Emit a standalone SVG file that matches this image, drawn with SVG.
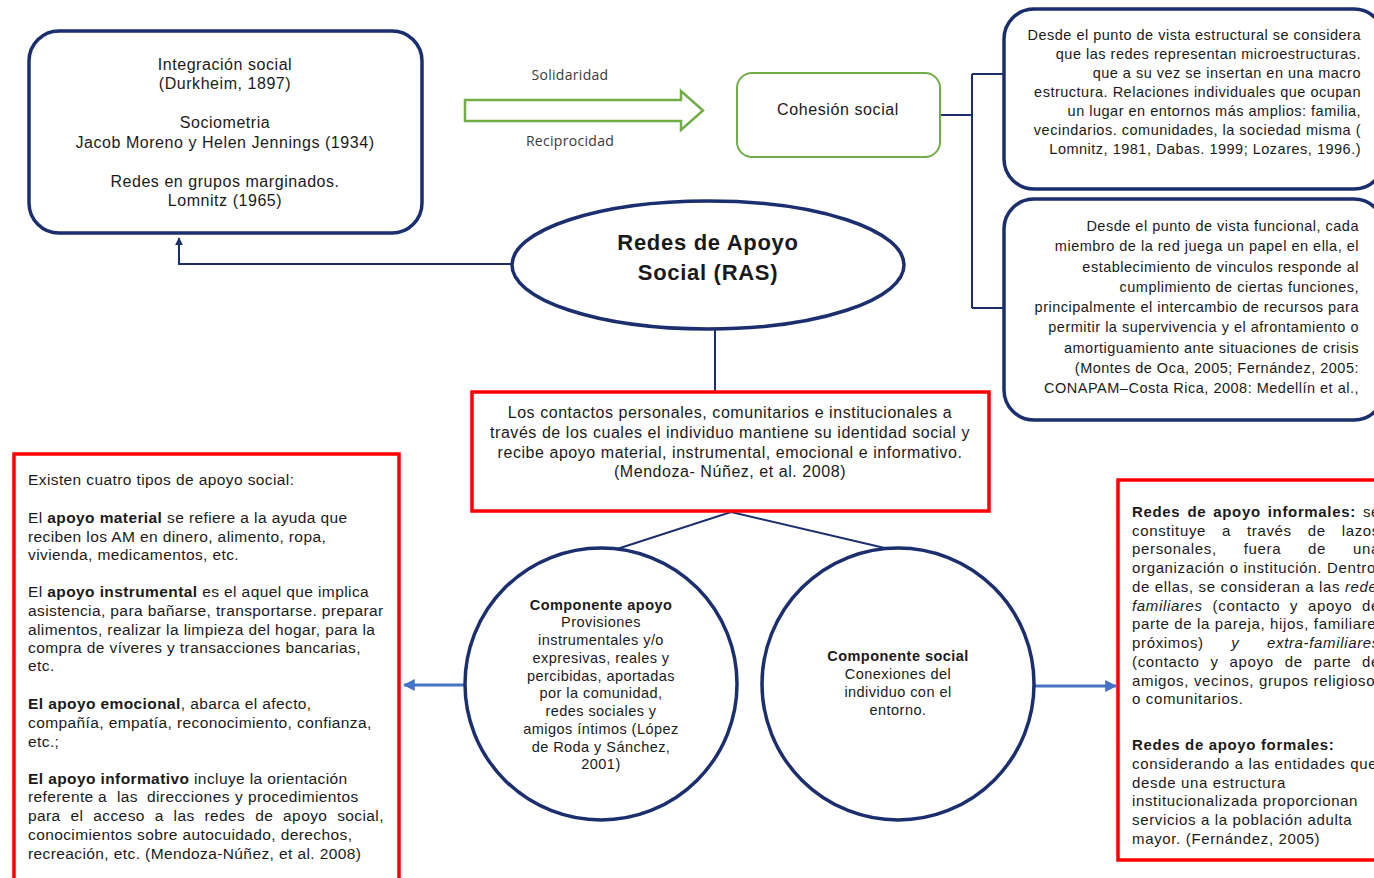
<svg xmlns="http://www.w3.org/2000/svg" width="1374" height="878" viewBox="0 0 1374 878">
<defs>
<style>
.t{font-family:"Liberation Sans",Arial,sans-serif;fill:#1a1a1a}
.navy{fill:none;stroke:#1b2f6e;stroke-width:3.5}
.red{fill:#fff;stroke:#ff0000;stroke-width:3.5}
.con{fill:none;stroke:#1b2f6e;stroke-width:2}
.blue{fill:none;stroke:#4472c4;stroke-width:3}
.b{font-weight:bold}
.i{font-style:italic}
.tl{font-size:16px;letter-spacing:0.55px;text-anchor:middle}
.rt{font-size:14.5px;letter-spacing:0.5px;text-anchor:end}
.cb{font-size:16px;letter-spacing:0.55px;text-anchor:middle}
.lb{font-size:15.5px;letter-spacing:0.4px}
.rb{font-size:15px;letter-spacing:0.65px}
.ci{font-size:14.5px;letter-spacing:0.45px;text-anchor:middle}
.lab{font-family:"Open Sans","Noto Sans",sans-serif;font-size:14px;letter-spacing:0.3px;fill:#3a3a3a;text-anchor:middle}
</style>
<marker id="navyArrow" viewBox="0 0 10 10" refX="9" refY="5" markerWidth="4" markerHeight="4" orient="auto" markerUnits="strokeWidth">
<path d="M0,0 L10,5 L0,10 z" fill="#1b2f6e"/>
</marker>
<marker id="blueArrow" viewBox="0 0 10 10" refX="9" refY="5" markerWidth="4" markerHeight="4" orient="auto" markerUnits="strokeWidth">
<path d="M0,0 L10,5 L0,10 z" fill="#4472c4"/>
</marker>
</defs>
<rect width="1374" height="878" fill="#fff"/>

<g id="connectors">
<path class="con" d="M512,264 H179 V238" marker-end="url(#navyArrow)"/>
<path class="con" d="M940,115 H972 M972,74 V308 M972,74 H1004 M972,308 H1004"/>
<path class="con" d="M715,329 V391"/>
<path class="con" d="M617,549 L731,512 L889,549"/>
<path class="blue" d="M465,685 H404" marker-end="url(#blueArrow)"/>
<path class="blue" d="M1034,686 H1116" marker-end="url(#blueArrow)"/>
<path d="M465,100 H681 V91 L703,110.5 L681,130 V121 H465 Z" fill="#fff" stroke="#70ad47" stroke-width="2.5"/>
<text class="lab" x="570" y="80">Solidaridad</text>
<text class="lab" x="570" y="146">Reciprocidad</text>
</g>

<g id="antecedentes">
<rect class="navy" x="29" y="31" width="393" height="202" rx="30"/>
<text class="t tl" x="225" y="70">Integración social</text>
<text class="t tl" x="225" y="89">(Durkheim, 1897)</text>
<text class="t tl" x="225" y="128">Sociometria</text>
<text class="t tl" x="225" y="148">Jacob Moreno y Helen Jennings (1934)</text>
<text class="t tl" x="225" y="187">Redes en grupos marginados.</text>
<text class="t tl" x="225" y="206">Lomnitz (1965)</text>
</g>

<g id="cohesion">
<rect x="737" y="73" width="203" height="84" rx="15" fill="#fff" stroke="#70ad47" stroke-width="2"/>
<text class="t" x="838" y="115" font-size="16" letter-spacing="0.6" text-anchor="middle">Cohesión social</text>
</g>

<g id="estructural">
<rect class="navy" x="1004" y="9" width="380" height="180" rx="30"/>
<text class="t rt" x="1361" y="40">Desde el punto de vista estructural se considera</text>
<text class="t rt" x="1361" y="59">que las redes representan microestructuras.</text>
<text class="t rt" x="1361" y="78">que a su vez se insertan en una macro</text>
<text class="t rt" x="1361" y="97">estructura. Relaciones individuales que ocupan</text>
<text class="t rt" x="1361" y="116">un lugar en entornos más amplios: familia,</text>
<text class="t rt" x="1361" y="135">vecindarios. comunidades, la sociedad misma (</text>
<text class="t rt" x="1361" y="154">Lomnitz, 1981, Dabas. 1999; Lozares, 1996.)</text>
</g>

<g id="funcional">
<rect class="navy" x="1004" y="199" width="380" height="221" rx="30"/>
<text class="t rt" x="1359" y="231">Desde el punto de vista funcional, cada</text>
<text class="t rt" x="1359" y="251">miembro de la red juega un papel en ella, el</text>
<text class="t rt" x="1359" y="272">establecimiento de vinculos responde al</text>
<text class="t rt" x="1359" y="292">cumplimiento de ciertas funciones,</text>
<text class="t rt" x="1359" y="312">principalmente el intercambio de recursos para</text>
<text class="t rt" x="1359" y="332">permitir la supervivencia y el afrontamiento o</text>
<text class="t rt" x="1359" y="353">amortiguamiento ante situaciones de crisis</text>
<text class="t rt" x="1359" y="373">(Montes de Oca, 2005; Fernández, 2005:</text>
<text class="t rt" x="1359" y="393">CONAPAM–Costa Rica, 2008: Medellín et al.,</text>
</g>

<g id="ras">
<ellipse class="navy" cx="708" cy="265" rx="196" ry="64" fill="#fff"/>
<text class="t b" x="708" y="250" font-size="22" letter-spacing="0.7" text-anchor="middle">Redes de Apoyo</text>
<text class="t b" x="708" y="280" font-size="22" letter-spacing="0.7" text-anchor="middle">Social (RAS)</text>
</g>

<g id="definicion">
<rect class="red" x="472" y="392" width="517" height="119"/>
<text class="t cb" x="730" y="418">Los contactos personales, comunitarios e institucionales a</text>
<text class="t cb" x="730" y="438">través de los cuales el individuo mantiene su identidad social y</text>
<text class="t cb" x="730" y="458">recibe apoyo material, instrumental, emocional e informativo.</text>
<text class="t cb" x="730" y="477">(Mendoza- Núñez, et al. 2008)</text>
</g>

<g id="componente-apoyo">
<circle class="navy" cx="601" cy="684" r="136" fill="#fff"/>
<text class="t ci b" x="601" y="610">Componente apoyo</text>
<text class="t ci" x="601" y="627">Provisiones</text>
<text class="t ci" x="601" y="645">instrumentales y/o</text>
<text class="t ci" x="601" y="663">expresivas, reales y</text>
<text class="t ci" x="601" y="681">percibidas, aportadas</text>
<text class="t ci" x="601" y="698">por la comunidad,</text>
<text class="t ci" x="601" y="716">redes sociales y</text>
<text class="t ci" x="601" y="734">amigos íntimos (López</text>
<text class="t ci" x="601" y="752">de Roda y Sánchez,</text>
<text class="t ci" x="601" y="769">2001)</text>
</g>

<g id="componente-social">
<circle class="navy" cx="898" cy="684" r="136" fill="#fff"/>
<text class="t ci b" x="898" y="661">Componente social</text>
<text class="t ci" x="898" y="679">Conexiones del</text>
<text class="t ci" x="898" y="697">individuo con el</text>
<text class="t ci" x="898" y="715">entorno.</text>
</g>

<g id="tipos-apoyo">
<rect class="red" x="14" y="454" width="385" height="440"/>
<text class="t lb" x="28" y="485">Existen cuatro tipos de apoyo social:</text>
<text class="t lb" x="28" y="523">El <tspan class="b">apoyo material</tspan> se refiere a la ayuda que</text>
<text class="t lb" x="28" y="542">reciben los AM en dinero, alimento, ropa,</text>
<text class="t lb" x="28" y="560">vivienda, medicamentos, etc.</text>
<text class="t lb" x="28" y="597">El <tspan class="b">apoyo instrumental</tspan> es el aquel que implica</text>
<text class="t lb" x="28" y="616">asistencia, para bañarse, transportarse. preparar</text>
<text class="t lb" x="28" y="635">alimentos, realizar la limpieza del hogar, para la</text>
<text class="t lb" x="28" y="653">compra de víveres y transacciones bancarias,</text>
<text class="t lb" x="28" y="671">etc.</text>
<text class="t lb" x="28" y="709"><tspan class="b">El apoyo emocional</tspan>, abarca el afecto,</text>
<text class="t lb" x="28" y="728">compañía, empatía, reconocimiento, confianza,</text>
<text class="t lb" x="28" y="747">etc.;</text>
<text class="t lb" x="28" y="784"><tspan class="b">El apoyo informativo</tspan> incluye la orientación</text>
<text class="t lb" y="802"><tspan x="28">referente</tspan><tspan x="98">a</tspan><tspan x="117">las</tspan><tspan x="147">direcciones</tspan><tspan x="235">y</tspan><tspan x="248">procedimientos</tspan></text>
<text class="t lb" y="821"><tspan x="28">para</tspan><tspan x="70.5">el</tspan><tspan x="93.3">acceso</tspan><tspan x="154.7">a</tspan><tspan x="173.6">las</tspan><tspan x="204.5">redes</tspan><tspan x="255.2">de</tspan><tspan x="283.1">apoyo</tspan><tspan x="337.2">social,</tspan></text>
<text class="t lb" x="28" y="840">conocimientos sobre autocuidado, derechos,</text>
<text class="t lb" x="28" y="859">recreación, etc. (Mendoza-Núñez, et al. 2008)</text>
</g>

<g id="redes-informales-formales">
<rect class="red" x="1118" y="480" width="280" height="380"/>
<text class="t rb" y="517"><tspan class="b" x="1132">Redes</tspan><tspan class="b" x="1187.4">de</tspan><tspan class="b" x="1213.3">apoyo</tspan><tspan class="b" x="1267.8">informales:</tspan><tspan x="1362.9">se</tspan></text>
<text class="t rb" y="536"><tspan x="1132">constituye</tspan><tspan x="1222">a</tspan><tspan x="1247">través</tspan><tspan x="1307.7">de</tspan><tspan x="1341.7">lazos</tspan></text>
<text class="t rb" y="554"><tspan x="1132">personales,</tspan><tspan x="1243.7">fuera</tspan><tspan x="1308.1">de</tspan><tspan x="1353.1">una</tspan></text>
<text class="t rb" x="1132" y="573">organización o institución. Dentro</text>
<text class="t rb" x="1132" y="592" letter-spacing="0.5">de ellas, se consideran a las <tspan class="i">redes</tspan></text>
<text class="t rb" y="611"><tspan x="1132" class="i">familiares</tspan><tspan x="1212.6">(contacto</tspan><tspan x="1290">y</tspan><tspan x="1308">apoyo</tspan><tspan x="1362">de</tspan></text>
<text class="t rb" x="1132" y="629">parte de la pareja, hijos, familiares</text>
<text class="t rb" y="648"><tspan x="1132">próximos)</tspan><tspan x="1231.3" class="i">y</tspan><tspan x="1267" class="i">extra-familiares</tspan></text>
<text class="t rb" y="667"><tspan x="1132">(contacto</tspan><tspan x="1210.5">y</tspan><tspan x="1229.6">apoyo</tspan><tspan x="1284.7">de</tspan><tspan x="1313.7">parte</tspan><tspan x="1362.1">de</tspan></text>
<text class="t rb" x="1132" y="686">amigos, vecinos, grupos religiosos</text>
<text class="t rb" x="1132" y="704">o comunitarios.</text>
<text class="t rb b" x="1132" y="750">Redes de apoyo formales:</text>
<text class="t rb" x="1132" y="769">considerando a las entidades que</text>
<text class="t rb" x="1132" y="788">desde una estructura</text>
<text class="t rb" x="1132" y="806">institucionalizada proporcionan</text>
<text class="t rb" x="1132" y="825">servicios a la población adulta</text>
<text class="t rb" x="1132" y="844">mayor. (Fernández, 2005)</text>
</g>
</svg>
